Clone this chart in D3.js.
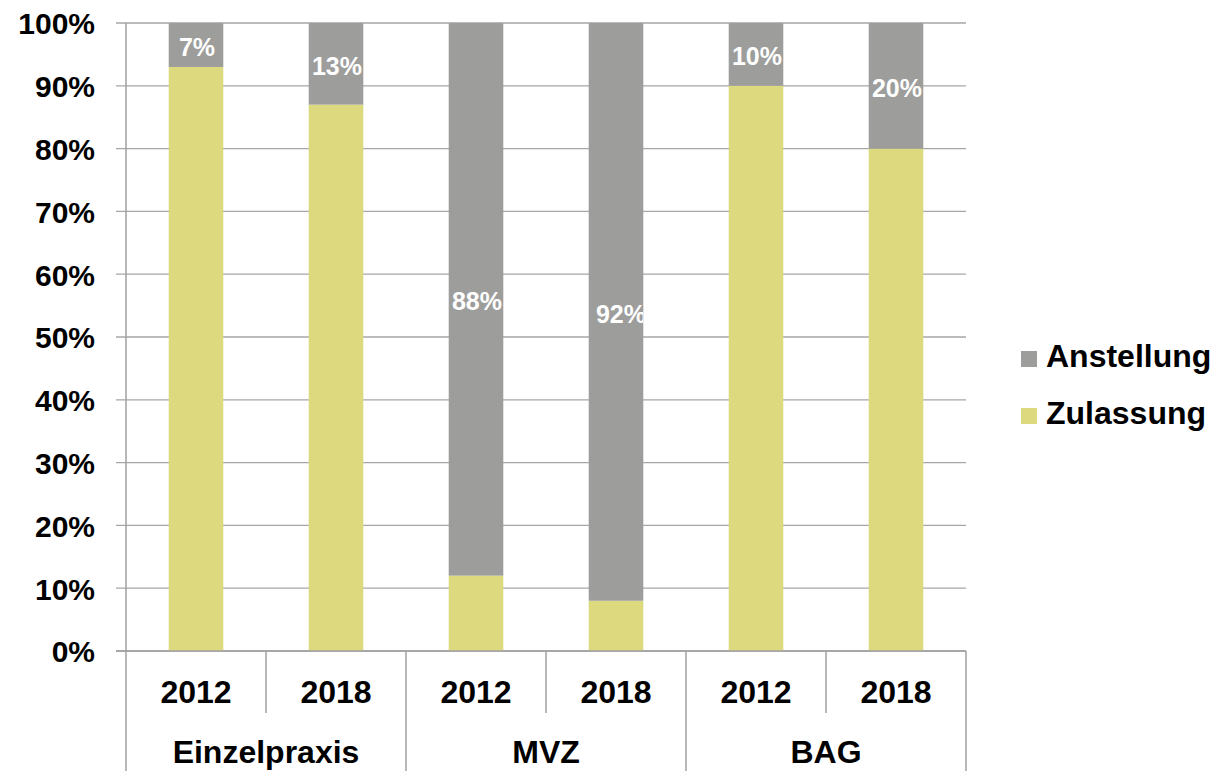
<!DOCTYPE html>
<html><head><meta charset="utf-8">
<script src="https://cdn.jsdelivr.net/npm/d3@7/dist/d3.min.js"></script>
<style>body{margin:0;background:#fff;} svg{display:block;}</style>
</head><body>
<svg id="c" width="1222" height="771"></svg>
<script>
const groups = ["Einzelpraxis", "MVZ", "BAG"];
const years = ["2012", "2018"];
const zulassung = [93, 87, 12, 8, 90, 80];
const anstellung = [7, 13, 88, 92, 10, 20];
const seriesNames = ["Anstellung", "Zulassung"];
const colors = {Anstellung: "#9D9E9C", Zulassung: "#DDD97F"};
const yTicks = [0,10,20,30,40,50,60,70,80,90,100];

const rows = [];
groups.forEach((g, gi) => years.forEach((y, yi) => {
  const i = gi * years.length + yi;
  rows.push({key: i, group: g, year: y, Zulassung: zulassung[i], Anstellung: anstellung[i]});
}));

const svg = d3.select("#c");
const font = "'Liberation Sans', Arial, sans-serif";
const L = 126, R = 966, T = 23, B = 651;

const x = d3.scaleBand().domain(rows.map(r => r.key)).range([L, R]).paddingInner(0.61).paddingOuter(0.305);
const xs = d3.scaleBand().domain(rows.map(r => r.key)).range([L, R]);
const y = d3.scaleLinear().domain([0, 100]).range([B, T]);

// gridlines
svg.append("g").selectAll("line").data(yTicks).join("line")
  .attr("x1", L - 10).attr("x2", R).attr("y1", d => y(d)).attr("y2", d => y(d))
  .attr("stroke", "#A6A6A6").attr("stroke-width", 1.3);

// y labels
svg.append("g").selectAll("text").data(yTicks).join("text")
  .attr("x", 95).attr("y", d => y(d)).attr("dy", "0.38em")
  .attr("text-anchor", "end").attr("font-family", font).attr("font-weight", "bold")
  .attr("font-size", 30).attr("fill", "#000").text(d => d + "%");

// stacked bars
const stack = d3.stack().keys(["Zulassung", "Anstellung"])(rows);
const defs = svg.append("defs");
rows.forEach(r => {
  defs.append("clipPath").attr("id", "clip" + r.key).append("rect")
    .attr("x", x(r.key)).attr("y", T).attr("width", x.bandwidth()).attr("height", B - T);
});
stack.forEach(s => {
  svg.append("g").selectAll("rect").data(s).join("rect")
    .attr("x", d => x(d.data.key)).attr("width", x.bandwidth())
    .attr("y", d => y(d[1])).attr("height", d => y(d[0]) - y(d[1]))
    .attr("fill", colors[s.key]);
});

// data labels for Anstellung
const anst = stack[1];
svg.append("g").selectAll("text").data(anst).join("text")
  .attr("clip-path", d => `url(#clip${d.data.key})`)
  .attr("x", d => x(d.data.key) + x.bandwidth() / 2 + (d.data.key === 3 ? 5 : 1))
  .attr("y", d => (y(d[0]) + y(d[1])) / 2 + 2).attr("dy", "0.36em")
  .attr("text-anchor", "middle").attr("font-family", font).attr("font-weight", "bold")
  .attr("font-size", 25).attr("fill", "#fff").text(d => d.data.Anstellung + "%");

// axes lines
const axisColor = "#A0A0A0";
svg.append("line").attr("x1", L).attr("x2", L).attr("y1", T).attr("y2", 771).attr("stroke", axisColor).attr("stroke-width", 1.5);
svg.append("line").attr("x1", L - 10).attr("x2", R).attr("y1", B).attr("y2", B).attr("stroke", axisColor).attr("stroke-width", 1.5);

// separators
rows.forEach((r, i) => {
  const xe = xs(r.key) + xs.bandwidth();
  const groupEnd = (i + 1) % years.length === 0;
  svg.append("line").attr("x1", xe).attr("x2", xe).attr("y1", B).attr("y2", groupEnd ? 771 : 713)
    .attr("stroke", axisColor).attr("stroke-width", 1.5);
});

// year labels
svg.append("g").selectAll("text").data(rows).join("text")
  .attr("x", r => xs(r.key) + xs.bandwidth() / 2).attr("y", 703)
  .attr("text-anchor", "middle").attr("font-family", font).attr("font-weight", "bold")
  .attr("font-size", 32).attr("fill", "#000").text(r => r.year);

// group labels
svg.append("g").selectAll("text").data(groups).join("text")
  .attr("x", (g, gi) => {
    const a = xs(gi * years.length), b = xs(gi * years.length + years.length - 1) + xs.bandwidth();
    return (a + b) / 2;
  }).attr("y", 763)
  .attr("text-anchor", "middle").attr("font-family", font).attr("font-weight", "bold")
  .attr("font-size", 32).attr("fill", "#000").text(g => g);

// legend
const lg = svg.append("g").selectAll("g").data(seriesNames).join("g")
  .attr("transform", (d, i) => `translate(1021, ${351 + i * 57})`);
lg.append("rect").attr("width", 16).attr("height", 16).attr("fill", d => colors[d]);
lg.append("text").attr("x", 25).attr("y", 16).attr("font-family", font).attr("font-weight", "bold")
  .attr("font-size", 32).attr("fill", "#000").text(d => d);
</script>
</body></html>
